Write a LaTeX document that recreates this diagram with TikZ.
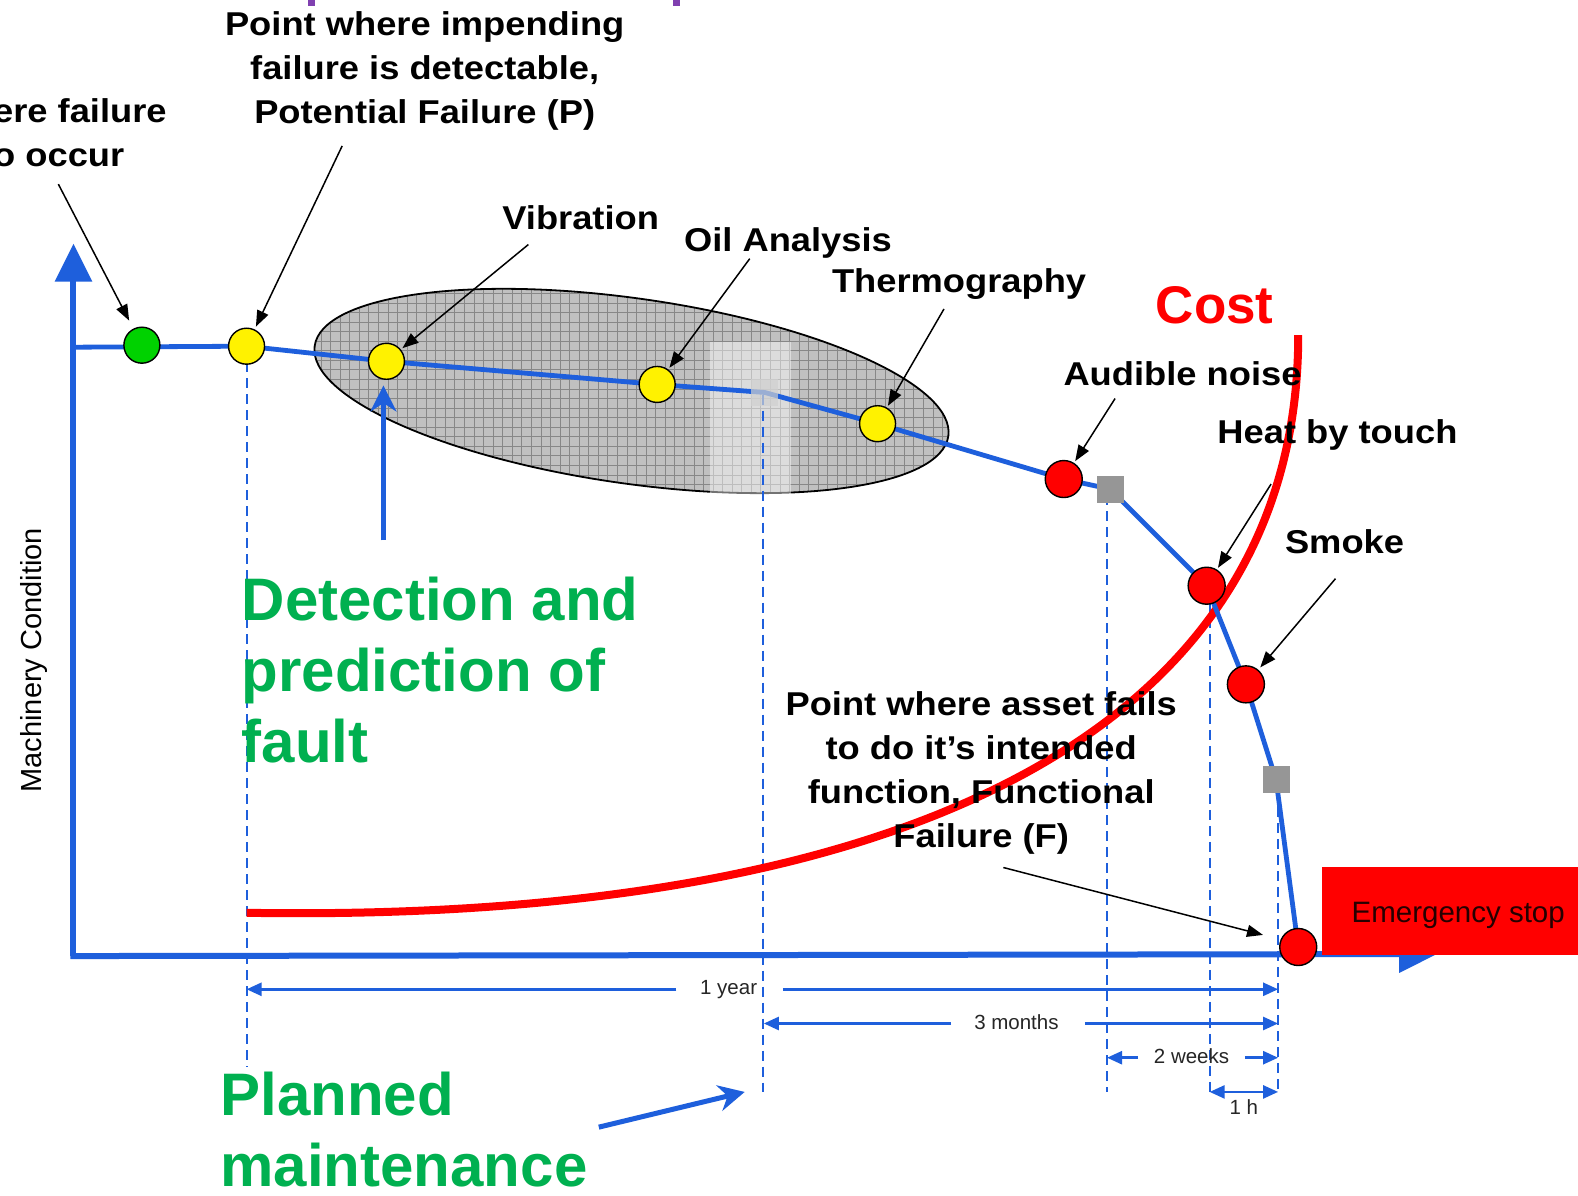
\documentclass[tikz,border=0pt]{standalone}
\usepackage{fontspec}
\setmainfont{Liberation Sans}
\usetikzlibrary{arrows.meta}
\definecolor{axblue}{RGB}{30,95,220}
\definecolor{okgreen}{RGB}{0,176,80}
\definecolor{ptgreen}{RGB}{0,210,0}
\definecolor{cellgray}{RGB}{192,192,192}
\definecolor{gridgray}{RGB}{135,135,135}
\definecolor{sqgray}{RGB}{150,150,150}
\definecolor{purp}{RGB}{128,64,176}
\newcommand\lblfont{\fontsize{33}{44}\selectfont\bfseries}
\newcommand\bigfont{\fontsize{60}{71}\selectfont\bfseries}
\newcommand\dimfont{\fontsize{20.5}{24}\selectfont}
\begin{document}
\begin{tikzpicture}[x=1.0064pt,y=-1.0064pt,
  lbl/.style={font=\lblfont, inner sep=0pt, xscale=1.1, text=black},
  biglbl/.style={font=\bigfont, inner sep=0pt, text=okgreen, align=left, anchor=north west},
  dimlbl/.style={font=\dimfont, inner sep=0pt, anchor=base, text=black!85},
  ptc/.style={circle, draw=black, line width=1.4pt, minimum size=36pt, inner sep=0pt},
  redc/.style={ptc, fill=red, minimum size=37pt},
  sqbox/.style={fill=sqgray, minimum size=27pt, inner sep=0pt, draw=none},
  axis/.style={draw=axblue, line width=6pt, -{Triangle[length=38pt,width=36pt]}},
  degline/.style={draw=axblue, line width=4.8pt, line join=round},
  dashline/.style={draw=axblue, line width=2pt, dash pattern=on 10pt off 6pt},
  dimarr/.style={draw=axblue, line width=2.5pt, -{Triangle[length=15pt,width=13pt]}},
  pointer/.style={draw=black, line width=1.5pt, -{Triangle[length=16pt,width=12pt]}},
  bigarr/.style={draw=axblue, line width=5pt, -{Stealth[length=26pt,width=26pt]}},
  costline/.style={draw=red, line width=8pt}
]
\useasboundingbox (0,0) rectangle (1568,1188);
\fill[white] (0,0) rectangle (1568,1188);

% clipped title remnants
\fill[purp] (306,0) rectangle (313,6);
\fill[purp] (669,0) rectangle (676,6);

% key coordinates
\coordinate (o) at (73,950);
\coordinate (ytip) at (73,242);
\coordinate (xtip) at (1428,948);
\coordinate (p0) at (73,345);
\coordinate (pg) at (141,343);
\coordinate (pp) at (245,344);
\coordinate (pv) at (384,359);
\coordinate (po) at (653,382);
\coordinate (pq) at (760,390);
\coordinate (pt) at (872,421);
\coordinate (pa) at (1057,476);
\coordinate (pq2) at (1103,486);
\coordinate (ph) at (1199,582);
\coordinate (ps) at (1238,680);
\coordinate (pq3) at (1268,775);
\coordinate (pf) at (1290,941);

% ellipse with grid
\begin{scope}
  \clip[rotate around={-8.1:(627.5,388.5)}] (627.5,388.5) ellipse [x radius=318, y radius=92];
  \fill[cellgray] (300,280) rectangle (960,500);
  \foreach \gx in {300,309.5,...,960} \draw[gridgray, line width=0.8pt] (\gx,280) -- (\gx,500);
  \foreach \gy in {282,291.5,...,500} \draw[gridgray, line width=0.8pt] (300,\gy) -- (960,\gy);
\end{scope}
\draw[black, line width=1.8pt, rotate around={-8.1:(627.5,388.5)}] (627.5,388.5) ellipse [x radius=318, y radius=92];
\fill[white, opacity=0.45] (705,340) rectangle (786,495);

% dashed verticals
\coordinate (v1) at (245,1060);
\coordinate (v2) at (758,1085);
\coordinate (v3) at (1100,1085);
\coordinate (v4) at (1202,1085);
\coordinate (v5) at (1270,1088);
\draw[dashline] (pp) -- (v1);
\draw[dashline] (758,392) -- (v2);
\draw[dashline] (1100,492) -- (v3);
\draw[dashline] (1202,598) -- (v4);
\draw[dashline] (1270,786) -- (v5);

% cost curve
\coordinate (c0) at (245,907);
\coordinate (c1) at (1290,333);
\draw[costline] (c0) .. controls (920,918) and (1290,715) .. (c1);

% axes
\draw[axis] (o) -- (ytip);
\draw[axis] ([xshift=-3pt]o) -- (xtip);

% degradation line
\draw[degline] (p0) -- (pp) -- (pv) -- (po) -- (pq) -- (pt) -- (pa) -- (pq2) -- (ph) -- (ps) -- (pq3) -- (pf);

% emergency stop box
\node[fill=red, minimum width=260pt, minimum height=88.5pt, inner sep=0pt, anchor=north west] (estop) at (1313,861) {};
\node[font=\fontsize{29.5}{34}\selectfont, inner sep=0pt, anchor=base, text=black!85!red] (estxt) at (1449,917) {Emergency stop};

% points
\node[ptc, fill=ptgreen] (g) at (pg) {};
\node[ptc, fill=yellow] (yP) at (pp) {};
\node[ptc, fill=yellow] (yV) at (pv) {};
\node[ptc, fill=yellow] (yO) at (po) {};
\node[ptc, fill=yellow] (yT) at (pt) {};
\node[sqbox, fill=sqgray!45, opacity=0.7] (sq1) at (pq) {};
\node[redc] (rA) at (pa) {};
\node[sqbox] (sq2) at (pq2) {};
\node[redc] (rH) at (ph) {};
\node[redc] (rS) at (ps) {};
\node[sqbox] (sq3) at (pq3) {};
\node[redc] (rF) at (pf) {};

% labels
\node[lbl, anchor=north west, align=left] (lstart) at (-7,98) {ere failure\\o occur};
\node[lbl, anchor=north, align=center] (lP) at (422,11) {Point where impending\\failure is detectable,\\Potential Failure (P)};
\node[lbl, anchor=base] (lV) at (577,228) {Vibration};
\node[lbl, anchor=base] (lO) at (783,250) {Oil Analysis};
\node[lbl, anchor=base] (lT) at (953,291) {Thermography};
\node[lbl, anchor=base] (lA) at (1175,383) {Audible noise};
\node[lbl, anchor=base] (lH) at (1329,441) {Heat by touch};
\node[lbl, anchor=base] (lS) at (1336,550) {Smoke};
\node[lbl, anchor=north, align=center] (lF) at (975,687) {Point where asset fails\\to do it’s intended\\function, Functional\\Failure (F)};
\node[font=\fontsize{53}{60}\selectfont\bfseries, text=red, inner sep=0pt, anchor=base] (lC) at (1207,321) {Cost};
\node[font=\fontsize{29}{34}\selectfont, inner sep=0pt, rotate=90, anchor=base] (lM) at (41,656) {Machinery Condition};
\node[biglbl] (lD) at (240,573) {Detection and\\prediction of\\fault};
\node[biglbl] (lPM) at (219,1065) {Planned\\maintenance};

% pointer arrows
\coordinate (t1) at (58,183);
\coordinate (t2) at (340,145);
\coordinate (t3) at (525,243);
\coordinate (t4) at (745,257);
\coordinate (t5) at (938,307);
\coordinate (t6) at (1108,396);
\coordinate (t7) at (1263,481);
\coordinate (t8) at (1327,575);
\coordinate (t9) at (997,862);
\coordinate (e9) at (1255,929);
\draw[pointer, shorten >=9pt] (t1) -- (g);
\draw[pointer, shorten >=3pt] (t2) -- (yP);
\draw[pointer, shorten >=2pt] (t3) -- (yV);
\draw[pointer, shorten >=2pt] (t4) -- (yO);
\draw[pointer, shorten >=2pt] (t5) -- (yT);
\draw[pointer, shorten >=2pt] (t6) -- (rA);
\draw[pointer, shorten >=2pt] (t7) -- (rH);
\draw[pointer, shorten >=3pt] (t8) -- (rS);
\draw[pointer] (t9) -- (e9);

% big blue arrows
\coordinate (u0) at (381,537);
\coordinate (u1) at (381,383);
\draw[bigarr] (u0) -- (u1);
\coordinate (m0) at (595,1120);
\coordinate (m1) at (740,1085);
\draw[bigarr] (m0) -- (m1);

% dimension lines
\coordinate (a1l) at (245,983);
\coordinate (a1r) at (1270,983);
\coordinate (a2l) at (759,1017);
\coordinate (a2r) at (1270,1017);
\coordinate (a3l) at (1100,1051);
\coordinate (a3r) at (1270,1051);
\coordinate (a4l) at (1202,1085);
\coordinate (a4r) at (1270,1085);
\node[dimlbl] (d1) at (724,988) {1 year};
\node[dimlbl] (d2) at (1010,1023) {3 months};
\node[dimlbl] (d3) at (1184,1057) {2 weeks};
\node[dimlbl] (d4) at (1236,1107) {1 h};
\draw[dimarr] (672,983) -- (a1l);
\draw[dimarr] (778,983) -- (a1r);
\draw[dimarr] (945,1017) -- (a2l);
\draw[dimarr] (1078,1017) -- (a2r);
\draw[dimarr] (1131,1051) -- (a3l);
\draw[dimarr] (1237,1051) -- (a3r);
\draw[dimarr, {Triangle[length=15pt,width=13pt]}-{Triangle[length=15pt,width=13pt]}] (a4l) -- (a4r);
\end{tikzpicture}
\end{document}
